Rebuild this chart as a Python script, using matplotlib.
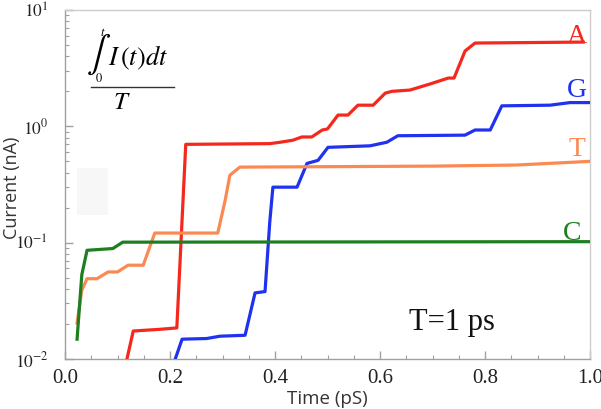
import matplotlib
matplotlib.use("Agg")
import matplotlib.pyplot as plt
from matplotlib.ticker import LogLocator, FixedLocator, NullFormatter, MultipleLocator
from matplotlib.lines import Line2D
from matplotlib.patches import Rectangle

plt.rcParams['mathtext.fontset'] = 'stix'

# ---- data ----
a_x = [0.118, 0.13, 0.181, 0.213, 0.23, 0.39, 0.41, 0.434, 0.451, 0.47, 0.49, 0.5, 0.52, 0.539,
       0.558, 0.587, 0.61, 0.623, 0.657, 0.695, 0.73, 0.741, 0.762, 0.781, 0.987]
a_y = [0.01, 0.0174, 0.018, 0.0185, 0.70, 0.71, 0.73, 0.76, 0.81, 0.81, 0.93, 0.95, 1.25, 1.25,
       1.52, 1.52, 1.93, 2.0, 2.05, 2.31, 2.6, 2.6, 4.44, 5.2, 5.3]

g_x = [0.21, 0.223, 0.27, 0.295, 0.343, 0.362, 0.381, 0.39, 0.396, 0.442, 0.461, 0.482, 0.501,
       0.581, 0.613, 0.634, 0.762, 0.781, 0.81, 0.832, 0.924, 0.962, 1.0]
g_y = [0.01, 0.0148, 0.0150, 0.0157, 0.016, 0.037, 0.038, 0.15, 0.30, 0.30, 0.48, 0.51, 0.66,
       0.68, 0.73, 0.83, 0.84, 0.93, 0.93, 1.5, 1.52, 1.6, 1.6]

t_x = [0.023, 0.032, 0.042, 0.061, 0.082, 0.1, 0.12, 0.149, 0.171, 0.291, 0.305, 0.314, 0.333,
       0.5, 0.7, 0.86, 1.0]
t_y = [0.0204, 0.039, 0.049, 0.049, 0.056, 0.056, 0.064, 0.064, 0.121, 0.121, 0.23, 0.38, 0.446,
       0.45, 0.455, 0.465, 0.5]

c_x = [0.023, 0.032, 0.042, 0.091, 0.11, 1.0]
c_y = [0.0148, 0.053, 0.086, 0.089, 0.101, 0.102]

series = [
    ("A", a_x, a_y, "#f4281c"),
    ("G", g_x, g_y, "#1e32f0"),
    ("T", t_x, t_y, "#fb8a52"),
    ("C", c_x, c_y, "#1d7f1f"),
]
x_ticks = [0.0, 0.2, 0.4, 0.6, 0.8, 1.0]
x_tick_labels = ["0.0", "0.2", "0.4", "0.6", "0.8", "1.0"]
y_ticks = [1e-2, 1e-1, 1e0, 1e1]
y_tick_labels = [r"$10^{-2}$", r"$10^{-1}$", r"$10^{0}$", r"$10^{1}$"]

W, H = 601, 409
fig = plt.figure(figsize=(W / 100, H / 100), dpi=100)
ax = fig.add_axes([65 / W, 1 - 359 / H, 525 / W, 349 / H])

for name, xs, ys, col in series:
    ax.plot(xs, ys, color=col, lw=2.3, solid_joinstyle='round', zorder=3)

ax.set_yscale('log')
ax.set_xlim(0, 1.0)
ax.set_ylim(1e-2, 1e1)

ax.xaxis.set_major_locator(FixedLocator(x_ticks))
ax.set_xticklabels(x_tick_labels)
ax.xaxis.set_minor_locator(MultipleLocator(0.05))
ax.yaxis.set_major_locator(FixedLocator(y_ticks))
ax.set_yticklabels(y_tick_labels)
ax.yaxis.set_minor_locator(LogLocator(base=10, subs=range(2, 10)))
ax.yaxis.set_minor_formatter(NullFormatter())

spine_col = "#a0a0a0"
for s in ax.spines.values():
    s.set_color(spine_col)
    s.set_linewidth(1.0)
ax.spines['top'].set_color("#cccccc")
ax.spines['right'].set_color("#cccccc")

ax.tick_params(which='both', direction='in', color=spine_col, top=False, right=False)
ax.tick_params(which='major', length=6, width=1.0)
ax.tick_params(which='minor', length=3, width=0.8)
ax.tick_params(axis='x', which='major', labelsize=15, pad=7)
ax.tick_params(axis='y', which='major', labelsize=12.5, pad=12)
for lab in ax.get_xticklabels() + ax.get_yticklabels():
    lab.set_fontfamily('Liberation Serif')
    lab.set_color('#222222')

ax.set_xlabel("Time (pS)", fontsize=13.5, family='Open Sans', color='#333333', labelpad=2)
ax.set_ylabel("Current (nA)", fontsize=13, family='Open Sans', color='#333333')
ax.yaxis.set_label_coords(-44 / 525, 0.49)

# series labels
lab_pos = {"A": (0.975, 5.9), "G": (0.975, 2.05), "T": (0.975, 0.63), "C": (0.965, 0.121)}
for name, xs, ys, col in series:
    px, py = lab_pos[name]
    ax.text(px, py, name, color=col, fontsize=20, family='Liberation Serif',
            ha='center', va='center', zorder=4)

ax.text(0.737, 0.0156, "T=1 ps", fontsize=22, family='Liberation Serif',
        ha='center', va='bottom', color='#111111')

# faint grey artifact box
fig.patches.append(Rectangle((77 / W, 1 - 215 / H), 31 / W, 47 / H, transform=fig.transFigure,
                             facecolor='#f7f7f7', edgecolor='none', zorder=0))

# formula
def fx(x):
    return x / W

def fy(y):
    return 1 - y / H

fig.text(fx(99), fy(55), r"$\int$", fontsize=26, ha='center', va='center')
fig.text(fx(103), fy(33), r"$t$", fontsize=9, ha='center', va='center')
fig.text(fx(99), fy(79), r"$0$", fontsize=9, ha='center', va='center')
fig.text(fx(108), fy(58), r"$I\,(t)dt$", fontsize=19, ha='left', va='center')
fig.add_artist(Line2D([fx(91), fx(174)], [fy(87), fy(87)], color='#333333', lw=1.0,
                      transform=fig.transFigure))
fig.text(fx(122), fy(102), r"$T$", fontsize=18, ha='center', va='center')

fig.savefig("out.png", dpi=100)
